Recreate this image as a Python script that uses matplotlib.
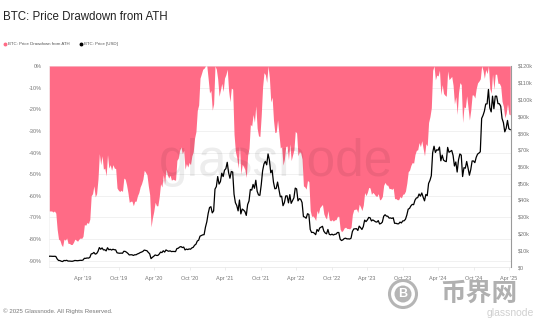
import matplotlib
matplotlib.use("Agg")
import matplotlib.pyplot as plt
import matplotlib.dates as mdates
from matplotlib.lines import Line2D
from matplotlib.patches import Ellipse
import numpy as np
import pandas as pd

plt.rcParams['font.family'] = ['Liberation Sans', 'DejaVu Sans']

# ---- data (weekly, Mondays from 2018-10-08) ----
price_2018 = [6400, 6450, 6400, 6350, 6400, 6300, 4800, 3900, 3850, 3450, 3250, 3900, 3800]
dd_2018 = [-67, -67, -67, -67.5, -67, -68, -75.5, -80, -80.5, -82.5, -83.5, -80, -80.5]

price_2019 = [4000, 3550, 3550, 3450,
              3400, 3600, 3900, 3800,
              3750, 3900, 4000, 3950,
              4150, 5200, 5150, 5400, 5300,
              5700, 7800, 8000, 8700,
              7700, 8000, 9300, 11600,
              10600, 11400, 10200, 10300, 9600,
              11500, 10300, 10600, 10100,
              10600, 10300, 10250, 8500, 8300,
              8200, 8300, 8200, 9400,
              9300, 8800, 8100, 7200,
              7300, 7300, 6900, 7300, 7300]
dd_2019 = [-79.5, -82, -82, -82.5,
           -82.5, -81.5, -80, -80.5,
           -81, -80, -79.5, -79.7,
           -78.7, -73.3, -73.6, -72.3, -72.8,
           -70.8, -60, -59, -55.4,
           -60.5, -59, -52.3, -40.5,
           -45.6, -41.5, -47.7, -47.2, -50.8,
           -41, -47.2, -45.6, -48.2,
           -45.6, -47.2, -47.4, -56.4, -57.4,
           -58, -57.4, -58, -51.8,
           -52.3, -54.9, -58.5, -63,
           -62.5, -62.5, -64.6, -62.5, -62.5]

price_2020 = [7800, 8100, 8600, 8900,
              9300, 10100, 9900, 9700,
              8700, 7900, 5000, 5800, 6400,
              7200, 6900, 6900, 7700,
              8900, 8600, 9700, 8900,
              10200, 9700, 9400, 9650, 9200,
              9300, 9250, 9200, 11000,
              11200, 11900, 12200, 11600, 11900,
              10200, 10700, 10400, 10800,
              10600, 11400, 11750, 13000,
              13600, 15500, 16000, 18400, 18800,
              19200, 19300, 23800, 27000]
dd_2020 = [-60, -58.5, -55.9, -54.4,
           -52.3, -48.2, -49.2, -50.3,
           -55.4, -59.5, -74.4, -70.3, -67.2,
           -63, -64.6, -64.6, -60.5,
           -54.4, -55.9, -50.3, -54.4,
           -47.7, -50.3, -51.8, -50.5, -52.8,
           -52.3, -52.6, -52.8, -43.6,
           -42.6, -39, -37.4, -40.5, -39,
           -47.7, -45.1, -46.7, -44.6,
           -45.6, -41.5, -39.7, -33.3,
           -30.3, -20.5, -18, -5.6, -3.6,
           -1.5, -1, 0, 0]

price_2021 = [32000, 35500, 36000, 32300,
              33500, 46500, 48000, 54000,
              49500, 51000, 56000, 54000, 57800,
              58700, 62500, 56300, 53000,
              57000, 56700, 43500, 38400, 36700,
              33500, 40000, 31700, 34600,
              34000, 33100, 30800, 37300,
              39400, 46300, 45900, 49300, 47000,
              51800, 45200, 43000, 42800,
              49100, 57400, 61500, 63100,
              61000, 67500, 63800, 56300, 57800,
              50600, 46700, 46900, 50700]
dd_2021 = [-6, -12.5, -11.3, -20.4,
           -17.5, 0, -1.5, -6,
           -14, -11, -8, -11.8, -5.6,
           -4, -1.5, -11.3, -16.5,
           -10.2, -10.7, -31.5, -39.5, -42.2,
           -47.2, -37, -50, -45.5,
           -46.5, -47.9, -51.5, -41.3,
           -38, -27, -27.7, -22.4, -26,
           -18.4, -28.8, -32.3, -32.6,
           -22.7, -9.6, -3.1, -4,
           -7.6, 0, -5.5, -16.6, -14.4,
           -25, -30.8, -30.5, -24.9]

price_2022 = [46400, 41900, 42300, 36600, 38400,
              42400, 42500, 38300, 43200,
              38000, 39700, 41300, 47100,
              46600, 39500, 40800, 40400,
              38500, 30100, 29800, 29100, 31800,
              31400, 22400, 20600, 20700,
              20200, 19300, 22400, 21300,
              23300, 23800, 24300, 21400, 20300,
              19800, 22400, 19500, 19200,
              19600, 19100, 19500, 19600, 20600,
              20600, 16600, 15800, 16200,
              17000, 17200, 16800, 16800]
dd_2022 = [-31.3, -37.9, -37.3, -45.8, -43.1,
           -37.2, -37, -43.3, -36,
           -43.7, -41.2, -38.8, -30.2,
           -31, -41.5, -39.6, -40.1,
           -43, -55.4, -55.9, -56.9, -52.9,
           -53.5, -66.8, -69.5, -69.3,
           -70.1, -71.4, -66.8, -68.4,
           -65.5, -64.7, -64, -68.3, -69.9,
           -70.7, -66.8, -71.1, -71.6,
           -71, -71.7, -71.1, -71, -69.5,
           -69.5, -75.4, -76.6, -76,
           -74.8, -74.5, -75.1, -75.1]

price_2023 = [16700, 17200, 21200, 22700, 22800,
              22900, 21800, 24400, 23500,
              22400, 24100, 28000, 27100,
              28100, 29600, 29400, 27500,
              28100, 27600, 27000, 26800, 27700,
              25700, 26000, 26800, 30300,
              31200, 30400, 30300, 29200, 29300,
              29000, 29400, 26100, 26100,
              25800, 25800, 26800, 26300,
              27500, 27600, 28500, 31000, 34500,
              35000, 36500, 37400, 37200,
              39900, 41200, 41400, 43600]
dd_2023 = [-75.3, -74.5, -68.6, -66.4, -66.2,
           -66.1, -67.7, -63.9, -65.2,
           -66.8, -64.3, -58.5, -59.9,
           -58.4, -56.1, -56.4, -59.3,
           -58.4, -59.1, -60, -60.3, -59,
           -61.9, -61.5, -60.3, -55.1,
           -53.8, -55, -55.1, -56.7, -56.6,
           -57, -56.4, -61.3, -61.3,
           -61.8, -61.8, -60.3, -61,
           -59.3, -59.1, -57.8, -54.1, -48.9,
           -48.1, -45.9, -44.6, -44.9,
           -40.9, -39, -38.7, -35.4]

price_2024 = [42300, 44200, 41700, 39500, 43300,
              42600, 49900, 51700, 54500,
              68300, 72100, 68400, 70000,
              69700, 71600, 63400, 66800, 63800,
              63200, 62900, 71400, 68500,
              69000, 69600, 66600, 60300,
              62700, 56700, 64000, 67500, 66800,
              54000, 59300, 59000, 63000,
              59100, 54800, 58200, 63300, 63300,
              62300, 65500, 67400, 68000,
              68800, 88700, 90500, 93000,
              97300, 97400, 106000, 95000, 92600]
dd_2024 = [-37.3, -34.5, -38.2, -41.5, -35.9,
           -36.9, -26.1, -23.4, -19.3,
           -2, 0, -6.4, -4.2,
           -4.6, -2, -13.3, -8.6, -12.7,
           -13.5, -14, -2.3, -6.3,
           -5.6, -4.8, -8.9, -17.5,
           -14.2, -22.4, -12.4, -7.7, -8.6,
           -26.1, -18.9, -19.3, -13.8,
           -19.2, -25, -20.4, -13.4, -13.4,
           -14.8, -10.4, -7.8, -7,
           -5.9, 0, -2, -5.7,
           -1.6, -3.5, 0, -10.4, -12.6]

price_2025 = [102000, 94500, 102000, 102000,
              97500, 97500, 96000, 88700,
              86200, 80700, 82800, 87500, 82500,
              82000]
dd_2025 = [-3.8, -10.8, -3.8, -3.8,
           -8, -8, -9.4, -16.3,
           -18.7, -23.9, -21.9, -17.5, -22.2,
           -22.6]

dd_ticks = [0, -10, -20, -30, -40, -50, -60, -70, -80, -90]
dd_tick_labels = ['0%', '-10%', '-20%', '-30%', '-40%', '-50%', '-60%', '-70%', '-80%', '-90%']
price_ticks = [0, 10000, 20000, 30000, 40000, 50000, 60000, 70000, 80000, 90000, 100000, 110000, 120000]
price_tick_labels = ['$0', '$10k', '$20k', '$30k', '$40k', '$50k', '$60k', '$70k', '$80k',
                     '$90k', '$100k', '$110k', '$120k']

price = np.concatenate([price_2018, price_2019, price_2020, price_2021, price_2022,
                        price_2023, price_2024, price_2025]).astype(float)
drawdown = np.concatenate([dd_2018, dd_2019, dd_2020, dd_2021, dd_2022,
                           dd_2023, dd_2024, dd_2025]).astype(float)
dates = pd.date_range("2018-10-08", periods=len(price), freq="7D")
assert len(price) == len(drawdown) == 340
assert dates[-1] == pd.Timestamp("2025-04-07")

PINK = '#ff6b86'
W, H = 540, 336

fig = plt.figure(figsize=(W / 100, H / 100), dpi=100)
fig.patch.set_facecolor('white')

ax = fig.add_axes([49 / W, 1 - 267 / H, 462 / W, 201 / H])
ax.set_axisbelow(True)
ax.fill_between(dates, drawdown, 0, color=PINK, lw=0, zorder=2)
ax.set_ylim(-92.9, 0)
ax.set_yticks(dd_ticks)
ax.set_yticklabels(dd_tick_labels)
ax.grid(axis='y', color='#ececec', lw=0.5, zorder=0)
ax.set_xlim(pd.Timestamp("2018-10-08"), pd.Timestamp("2025-04-11"))
ax.xaxis.set_major_locator(mdates.MonthLocator(bymonth=[4, 10]))
ax.xaxis.set_major_formatter(mdates.DateFormatter("%b '%y"))
ax.tick_params(axis='y', length=0, pad=5, labelsize=4, labelcolor='#777777')
ax.tick_params(axis='x', length=2.5, color='#e6e6e6', width=0.5, pad=4,
               labelsize=4, labelcolor='#777777')
for s in ['top', 'right']:
    ax.spines[s].set_visible(False)
ax.spines['left'].set_color('#f2f2f2')
ax.spines['left'].set_linewidth(0.5)
ax.spines['bottom'].set_color('#e6e6e6')
ax.spines['bottom'].set_linewidth(0.5)

ax2 = ax.twinx()
ax2.plot(dates, price, color='black', lw=0.9, zorder=3)
ax2.set_ylim(0, 120000)
ax2.set_yticks(price_ticks)
ax2.set_yticklabels(price_tick_labels)
ax2.tick_params(axis='y', length=0, pad=5, labelsize=4, labelcolor='#777777')
for s in ['top', 'left', 'bottom']:
    ax2.spines[s].set_visible(False)
ax2.spines['right'].set_color('#9a9a9a')
ax2.spines['right'].set_linewidth(0.8)

# title and legend
fig.text(3 / W, 1 - 17 / H, 'BTC: Price Drawdown from ATH', fontsize=8.3,
         color='#222222', va='center', ha='left')
fig.add_artist(Line2D([5 / W], [1 - 44 / H], marker='o', ms=1.8, color=PINK,
                      lw=0, transform=fig.transFigure))
fig.text(8 / W, 1 - 44 / H, 'BTC: Price Drawdown from ATH', fontsize=3.2,
         color='#555555', va='center', ha='left')
fig.add_artist(Line2D([81 / W], [1 - 44 / H], marker='o', ms=1.8, color='black',
                      lw=0, transform=fig.transFigure))
fig.text(84 / W, 1 - 44 / H, 'BTC: Price [USD]', fontsize=3.2,
         color='#555555', va='center', ha='left')

# watermark
fig.text(276 / W, 1 - 162 / H, 'glassnode', fontsize=37, color='black', alpha=0.07,
         ha='center', va='center', zorder=5)

# footer
fig.text(3 / W, 1 - 311 / H, '© 2025 Glassnode. All Rights Reserved.', fontsize=4.4,
         color='#777777', va='center', ha='left')

# bottom-right logos
fig.text(487 / W, 1 - 313 / H, 'glassnode', fontsize=7.5, color='#d0d0d0',
         va='center', ha='left', zorder=1)
cx, cy = 403, 294
fig.add_artist(Ellipse((cx / W, 1 - cy / H), 27 / W, 27 / H, transform=fig.transFigure,
                       facecolor='none', edgecolor='#b5b5b5', lw=2.2, zorder=2))
fig.add_artist(Ellipse((cx / W, 1 - cy / H), 17 / W, 17 / H, transform=fig.transFigure,
                       facecolor='#b5b5b5', edgecolor='none', zorder=2))
fig.text(cx / W, 1 - cy / H, 'B', fontsize=9, fontweight='bold', color='white',
         ha='center', va='center', zorder=3)
fig.text(479 / W, 1 - 293 / H, '币界网', fontsize=18.5, fontweight='bold', color='#b0b0b0',
         ha='center', va='center', family=['Noto Sans CJK SC', 'DejaVu Sans'], zorder=3)

fig.savefig('out.png', dpi=100, facecolor='white')
